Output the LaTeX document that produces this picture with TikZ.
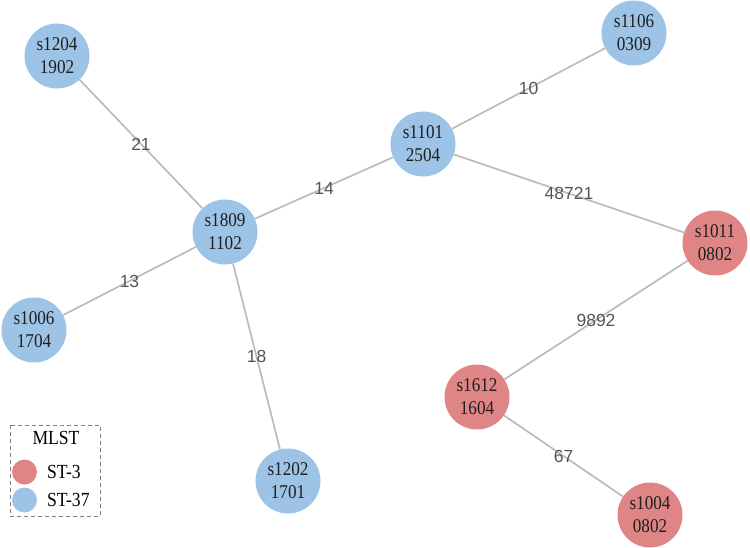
\documentclass[tikz,border=0pt]{standalone}
\usepackage{fontspec}
\setmainfont{Liberation Serif}
\newfontfamily\isofont[FakeStretch=0.88]{Liberation Serif}
\newfontfamily\distfont{Liberation Sans}
\definecolor{stblue}{HTML}{9DC3E6}
\definecolor{stred}{HTML}{E08585}
\definecolor{linkgray}{HTML}{BBBBBB}
\definecolor{distgray}{HTML}{555555}
\tikzset{
  isolate/.style={circle, minimum size=65pt, inner sep=0pt, align=center,
    text=black!88, font=\isofont\fontsize{19.5}{23}\selectfont},
  st37/.style={isolate, fill=stblue},
  st3/.style={isolate, fill=stred},
  link/.style={draw=linkgray, line width=1.7pt},
  dist/.style={font=\distfont\fontsize{17.5}{20}\selectfont, text=distgray, inner sep=0pt},
  keydot/.style={circle, minimum size=25pt, inner sep=0pt},
  keytext/.style={anchor=west, inner sep=0pt, font=\isofont\fontsize{20}{22}\selectfont}
}
\begin{document}
\begin{tikzpicture}[x=1pt, y=-1pt]
  \useasboundingbox (0,0) rectangle (750,547);
  % isolates
  \node[st37] (s1204) at (57,56) {s1204\\1902};
  \node[st37] (s1106) at (634,33) {s1106\\0309};
  \node[st37] (s1101) at (423,144) {s1101\\2504};
  \node[st37] (s1809) at (225,232) {s1809\\1102};
  \node[st3]  (s1011) at (715,243) {s1011\\0802};
  \node[st37] (s1006) at (34,330) {s1006\\1704};
  \node[st3]  (s1612) at (477,397) {s1612\\1604};
  \node[st37] (s1202) at (288,481) {s1202\\1701};
  \node[st3]  (s1004) at (650,515) {s1004\\0802};
  % allele distances
  \draw[link] (s1204) -- node[dist] {21} (s1809);
  \draw[link] (s1101) -- node[dist] {10} (s1106);
  \draw[link] (s1809) -- node[dist] {14} (s1101);
  \draw[link] (s1101) -- node[dist] {48721} (s1011);
  \draw[link] (s1809) -- node[dist] {13} (s1006);
  \draw[link] (s1809) -- node[dist] {18} (s1202);
  \draw[link] (s1011) -- node[dist] {9892} (s1612);
  \draw[link] (s1612) -- node[dist] {67} (s1004);
  % legend
  \draw[gray, dashed, line width=0.8pt, dash pattern=on 4pt off 3pt] (10,425) rectangle (100,516);
  \node[font=\isofont\fontsize{20}{22}\selectfont] (mlst) at (56,438) {MLST};
  \node[keydot, fill=stred] (key3) at (24.5,472) {};
  \node[keytext] (key3txt) at (47,472) {ST-3};
  \node[keydot, fill=stblue] (key37) at (24.5,500) {};
  \node[keytext] (key37txt) at (47,500) {ST-37};
\end{tikzpicture}
\end{document}
